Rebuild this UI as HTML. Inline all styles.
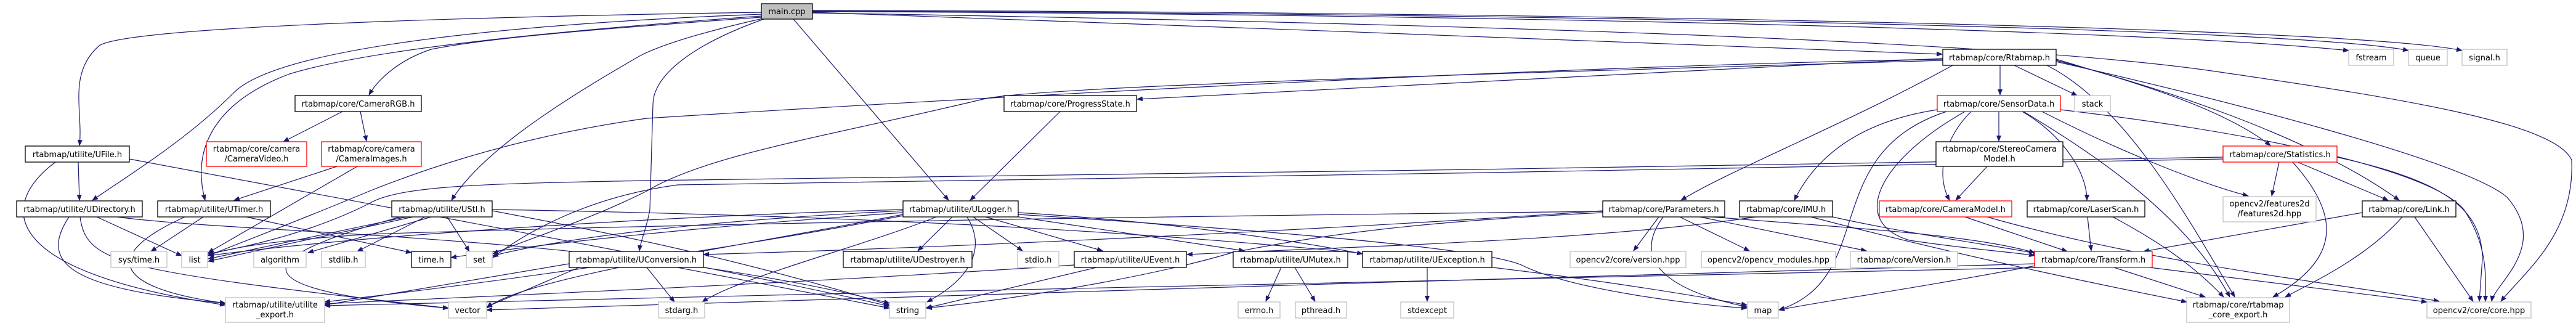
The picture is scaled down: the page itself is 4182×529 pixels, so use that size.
<!DOCTYPE html>
<html><head><meta charset="utf-8"><style>
html,body{margin:0;padding:0;background:#fff;}
svg{display:block;}
text{font-family:"DejaVu Sans","Liberation Sans",sans-serif;font-size:13px;fill:#000;}
.e{fill:none;stroke:#191970;stroke-width:1.2;marker-end:url(#a);}
.b{fill:#fff;stroke:#000;stroke-width:1.3;}
.g{fill:#fff;stroke:#bfbfbf;stroke-width:1.3;}
.r{fill:#fff;stroke:#ff0000;stroke-width:1.3;}
</style></head><body>
<svg width="4182" height="529" viewBox="0 0 4182 529" xmlns="http://www.w3.org/2000/svg">
<defs><marker id="a" markerWidth="10" markerHeight="8" refX="9" refY="4" orient="auto" markerUnits="userSpaceOnUse"><path d="M0,0 L10,4 L0,8 z" fill="#191970"/></marker></defs>
<g>
<!-- main edges -->
<path class="e" d="M1236,20 C900,25 200,40 160,75 C110,120 135,180 129,236"/>
<path class="e" d="M1236,23 C800,40 450,80 380,150 C300,230 200,290 150,325"/>
<path class="e" d="M1236,26 C900,50 600,80 470,120 C350,165 310,240 333,325"/>
<path class="e" d="M1236,28 C1000,45 800,60 700,80 C640,100 610,135 599,154"/>
<path class="e" d="M1238,30 C1150,50 1080,70 1040,90 C900,170 780,250 733,325"/>
<path class="e" d="M1240,31 C1130,70 1060,120 1060,170 L1055,340 C1050,370 1040,390 1038,407"/>
<path class="e" d="M1288,31 L1540,325"/>
<path class="e" d="M1319,20 C1800,40 2800,70 3153,88"/>
<path class="e" d="M1319,19 C2000,20 3400,40 3813,82"/>
<path class="e" d="M1319,18 C2200,20 3700,40 3910,82"/>
<path class="e" d="M1319,17 C2300,18 3800,40 3997,82"/>
<path class="e" d="M1319,21 C2500,40 3300,70 3611,118 C3900,160 4150,200 4175,260 C4180,380 4100,440 4060,489"/>
<!-- Rtabmap -->
<path class="e" d="M3154,95 C2600,120 2000,150 1846,161"/>
<path class="e" d="M3154,96 C2400,110 1400,170 1050,192 C850,220 700,270 600,310 C480,360 400,390 338,415"/>
<path class="e" d="M3154,98 C2400,120 1700,140 1600,160 C1350,220 1150,250 1050,310 C950,360 850,390 800,412"/>
<path class="e" d="M3170,106 C3000,200 2800,280 2729,325"/>
<path class="e" d="M3247,106 L3247,154"/>
<path class="e" d="M3270,106 L3372,155"/>
<path class="e" d="M3323,106 C3450,170 3550,350 3628,482"/>
<path class="e" d="M3338,96 C3450,130 3600,170 3686,236"/>
<path class="e" d="M3338,98 C3500,140 3750,220 3895,325"/>
<path class="e" d="M3338,100 C3600,160 4000,260 4070,320 C4140,400 4050,460 4045,489"/>
<!-- SensorData -->
<path class="e" d="M3245,181 L3245,229"/>
<path class="e" d="M3200,181 C3160,220 3140,280 3165,325"/>
<path class="e" d="M3145,178 C3000,200 2940,270 2913,325"/>
<path class="e" d="M3283,181 C3350,220 3388,280 3388,325"/>
<path class="e" d="M3285,181 C3400,250 3550,350 3620,482"/>
<path class="e" d="M3315,181 C3450,250 3580,300 3650,318"/>
<path class="e" d="M3345,178 C3700,220 3950,280 4000,340 C4040,400 4035,450 4035,489"/>
<path class="e" d="M3190,181 C3050,260 3000,360 3100,390 C3200,405 3280,410 3303,415"/>
<path class="e" d="M3160,181 C2950,250 3050,450 2888,503"/>
<!-- Statistics -->
<path class="e" d="M3609,255 C3000,270 1500,285 1050,293 C800,298 650,300 600,330 C500,380 400,400 338,412"/>
<path class="e" d="M3609,258 C3000,275 1600,290 1100,300 C950,320 850,380 800,418"/>
<path class="e" d="M3700,263 L3688,318"/>
<path class="e" d="M3722,263 C3800,350 3800,420 3690,482"/>
<path class="e" d="M3730,263 L3877,325"/>
<path class="e" d="M3794,255 C3950,290 4030,330 4030,420 L4025,489"/>
<!-- others core -->
<path class="e" d="M3226,270 L3175,325"/>
<path class="e" d="M3389,352 L3395,407"/>
<path class="e" d="M3430,352 C3520,400 3570,440 3610,482"/>
<path class="e" d="M3835,345 L3480,408"/>
<path class="e" d="M3900,352 C3840,420 3750,460 3710,482"/>
<path class="e" d="M3920,352 L4015,489"/>
<path class="e" d="M3190,352 L3356,408"/>
<path class="e" d="M3226,352 C3500,430 3800,460 3960,489"/>
<path class="e" d="M3432,434 L3580,482"/>
<path class="e" d="M3490,434 C3700,460 3850,480 3940,490"/>
<path class="e" d="M3303,428 C2500,450 1500,480 790,503"/>
<path class="e" d="M3320,434 C2800,450 1500,470 527,496"/>
<path class="e" d="M3310,430 C3100,470 2950,490 2888,503"/>
<!-- Parameters -->
<path class="e" d="M2693,352 L2652,407"/>
<path class="e" d="M2727,352 L2840,407"/>
<path class="e" d="M2760,352 L3030,407"/>
<path class="e" d="M2780,352 C3000,370 3200,380 3303,410"/>
<path class="e" d="M2602,342 C2200,370 1600,400 1142,413"/>
<path class="e" d="M2602,345 C2300,360 2150,380 2000,410 C1900,440 1700,480 1504,500"/>
<path class="e" d="M2602,343 C2000,350 1200,360 600,380 C450,390 380,400 338,414"/>
<path class="e" d="M2700,352 C2650,420 2700,470 2836,498"/>
<!-- IMU -->
<path class="e" d="M2975,352 C3100,380 3250,400 3310,412"/>
<path class="e" d="M2940,352 C3200,420 3450,470 3550,490"/>
<path class="e" d="M2850,352 C2600,390 2200,400 1927,413"/>
<!-- ULogger -->
<path class="e" d="M1546,352 L1490,407"/>
<path class="e" d="M1580,352 L1660,407"/>
<path class="e" d="M1600,352 L1790,407"/>
<path class="e" d="M1640,350 L2020,407"/>
<path class="e" d="M1653,345 C1900,360 2100,390 2212,412"/>
<path class="e" d="M1570,352 C1600,400 1580,450 1505,490"/>
<path class="e" d="M1520,352 C1400,400 1200,450 1140,490"/>
<path class="e" d="M1466,340 C1100,350 600,380 338,415"/>
<path class="e" d="M1466,342 C1100,360 900,390 800,415"/>
<path class="e" d="M1466,345 C1100,370 850,400 732,418"/>
<path class="e" d="M1466,348 C1200,400 850,450 790,500"/>
<path class="e" d="M1466,350 C1100,420 700,470 527,490"/>
<path class="e" d="M1653,348 C2000,370 2400,400 2470,430 C2550,470 2750,495 2836,500"/>
<!-- UConversion etc -->
<path class="e" d="M1050,434 L1095,490"/>
<path class="e" d="M1100,434 L1444,500"/>
<path class="e" d="M940,434 L790,498"/>
<path class="e" d="M924,428 L527,495"/>
<path class="e" d="M1780,434 L1503,500"/>
<path class="e" d="M1744,430 C1300,460 800,480 527,493"/>
<path class="e" d="M2080,434 L2055,489"/>
<path class="e" d="M2102,434 L2135,489"/>
<path class="e" d="M2317,434 L2317,489"/>
<!-- UStl -->
<path class="e" d="M660,352 L338,420"/>
<path class="e" d="M670,352 L338,424"/>
<path class="e" d="M700,352 L500,410"/>
<path class="e" d="M690,352 L580,408"/>
<path class="e" d="M726,352 L762,408"/>
<path class="e" d="M650,352 C400,420 380,470 728,500"/>
<path class="e" d="M799,342 C1000,380 1200,420 1444,495"/>
<path class="e" d="M799,340 C1400,350 2200,380 2836,495"/>
<!-- UFile / UDirectory / UTimer -->
<path class="e" d="M127,263 L129,325"/>
<path class="e" d="M90,263 C0,330 -10,440 366,495"/>
<path class="e" d="M210,258 C700,350 1200,440 1444,497"/>
<path class="e" d="M157,352 L295,415"/>
<path class="e" d="M112,352 C60,430 120,470 366,492"/>
<path class="e" d="M130,352 C140,430 200,440 728,500"/>
<path class="e" d="M190,352 C400,380 1000,380 1444,492"/>
<path class="e" d="M330,352 L245,408"/>
<path class="e" d="M400,352 L668,410"/>
<path class="e" d="M300,352 C150,420 200,470 366,492"/>
<path class="e" d="M547,270 L380,325"/>
<path class="e" d="M580,270 L338,410"/>
<path class="e" d="M556,181 L460,230"/>
<path class="e" d="M585,181 L595,229"/>
<path class="e" d="M1721,181 L1575,325"/>
</g>
<g>
<rect x="1236" y="6" width="83" height="25" fill="#bfbfbf" stroke="#000" stroke-width="1.3"/><text x="1277.5" y="23" text-anchor="middle">main.cpp</text>
<rect class="b" x="41" y="237" width="169" height="26"/><text x="125.5" y="255" text-anchor="middle">rtabmap/utilite/UFile.h</text>
<rect class="b" x="27" y="326" width="204" height="26"/><text x="129" y="344" text-anchor="middle">rtabmap/utilite/UDirectory.h</text>
<rect class="b" x="256" y="326" width="183" height="26"/><text x="347.5" y="344" text-anchor="middle">rtabmap/utilite/UTimer.h</text>
<rect class="b" x="479" y="155" width="205" height="26"/><text x="581.5" y="173" text-anchor="middle">rtabmap/core/CameraRGB.h</text>
<rect class="r" x="335" y="230" width="163" height="40"/><text x="416.5" y="246" text-anchor="middle">rtabmap/core/camera</text><text x="416.5" y="262" text-anchor="middle">/CameraVideo.h</text>
<rect class="r" x="522" y="230" width="162" height="40"/><text x="603" y="246" text-anchor="middle">rtabmap/core/camera</text><text x="603" y="262" text-anchor="middle">/CameraImages.h</text>
<rect class="b" x="636" y="326" width="163" height="26"/><text x="717.5" y="344" text-anchor="middle">rtabmap/utilite/UStl.h</text>
<rect class="g" x="180" y="408" width="91" height="26"/><text x="225.5" y="426" text-anchor="middle">sys/time.h</text>
<rect class="g" x="295" y="408" width="42" height="26"/><text x="316" y="426" text-anchor="middle">list</text>
<rect class="g" x="412" y="408" width="85" height="26"/><text x="454.5" y="426" text-anchor="middle">algorithm</text>
<rect class="g" x="522" y="408" width="71" height="26"/><text x="557.5" y="426" text-anchor="middle">stdlib.h</text>
<rect class="b" x="668" y="408" width="64" height="26"/><text x="700" y="426" text-anchor="middle">time.h</text>
<rect class="g" x="757" y="408" width="42" height="26"/><text x="778" y="426" text-anchor="middle">set</text>
<rect class="b" x="924" y="408" width="218" height="26"/><text x="1033" y="426" text-anchor="middle">rtabmap/utilite/UConversion.h</text>
<rect class="g" x="366" y="483" width="161" height="40"/><text x="446.5" y="499" text-anchor="middle">rtabmap/utilite/utilite</text><text x="446.5" y="515" text-anchor="middle">_export.h</text>
<rect class="g" x="728" y="490" width="62" height="26"/><text x="759" y="508" text-anchor="middle">vector</text>
<rect class="g" x="1069" y="490" width="75" height="26"/><text x="1106.5" y="508" text-anchor="middle">stdarg.h</text>
<rect class="g" x="1444" y="490" width="59" height="26"/><text x="1473.5" y="508" text-anchor="middle">string</text>
<rect class="b" x="1630" y="155" width="215" height="26"/><text x="1737.5" y="173" text-anchor="middle">rtabmap/core/ProgressState.h</text>
<rect class="b" x="1466" y="326" width="187" height="26"/><text x="1559.5" y="344" text-anchor="middle">rtabmap/utilite/ULogger.h</text>
<rect class="b" x="1369" y="408" width="209" height="26"/><text x="1473.5" y="426" text-anchor="middle">rtabmap/utilite/UDestroyer.h</text>
<rect class="g" x="1652" y="408" width="67" height="26"/><text x="1685.5" y="426" text-anchor="middle">stdio.h</text>
<rect class="b" x="1744" y="408" width="182" height="26"/><text x="1835" y="426" text-anchor="middle">rtabmap/utilite/UEvent.h</text>
<rect class="b" x="2002" y="408" width="186" height="26"/><text x="2095" y="426" text-anchor="middle">rtabmap/utilite/UMutex.h</text>
<rect class="g" x="2010" y="490" width="68" height="26"/><text x="2044" y="508" text-anchor="middle">errno.h</text>
<rect class="b" x="2212" y="408" width="210" height="26"/><text x="2317" y="426" text-anchor="middle">rtabmap/utilite/UException.h</text>
<rect class="g" x="2103" y="490" width="83" height="26"/><text x="2144.5" y="508" text-anchor="middle">pthread.h</text>
<rect class="g" x="2274" y="490" width="86" height="26"/><text x="2317" y="508" text-anchor="middle">stdexcept</text>
<rect class="g" x="2837" y="490" width="50" height="26"/><text x="2862" y="508" text-anchor="middle">map</text>
<rect class="b" x="2602" y="326" width="198" height="26"/><text x="2701" y="344" text-anchor="middle">rtabmap/core/Parameters.h</text>
<rect class="b" x="2824" y="326" width="151" height="26"/><text x="2899.5" y="344" text-anchor="middle">rtabmap/core/IMU.h</text>
<rect class="r" x="3051" y="326" width="215" height="26"/><text x="3158.5" y="344" text-anchor="middle">rtabmap/core/CameraModel.h</text>
<rect class="g" x="2549" y="408" width="188" height="26"/><text x="2643" y="426" text-anchor="middle">opencv2/core/version.hpp</text>
<rect class="g" x="2762" y="408" width="218" height="26"/><text x="2871" y="426" text-anchor="middle">opencv2/opencv_modules.hpp</text>
<rect class="g" x="3004" y="408" width="174" height="26"/><text x="3091" y="426" text-anchor="middle">rtabmap/core/Version.h</text>
<rect class="r" x="3145" y="155" width="200" height="26"/><text x="3245" y="173" text-anchor="middle">rtabmap/core/SensorData.h</text>
<rect class="b" x="3143" y="230" width="206" height="40"/><text x="3246" y="246" text-anchor="middle">rtabmap/core/StereoCamera</text><text x="3246" y="262" text-anchor="middle">Model.h</text>
<rect class="b" x="3154" y="80" width="184" height="26"/><text x="3246" y="98" text-anchor="middle">rtabmap/core/Rtabmap.h</text>
<rect class="g" x="3813" y="80" width="73" height="26"/><text x="3849.5" y="98" text-anchor="middle">fstream</text>
<rect class="g" x="3910" y="80" width="63" height="26"/><text x="3941.5" y="98" text-anchor="middle">queue</text>
<rect class="g" x="3997" y="80" width="73" height="26"/><text x="4033.5" y="98" text-anchor="middle">signal.h</text>
<rect class="g" x="3368" y="155" width="58" height="26"/><text x="3397" y="173" text-anchor="middle">stack</text>
<rect class="r" x="3609" y="237" width="185" height="26"/><text x="3701.5" y="255" text-anchor="middle">rtabmap/core/Statistics.h</text>
<rect class="g" x="3609" y="319" width="151" height="41"/><text x="3684.5" y="335" text-anchor="middle">opencv2/features2d</text><text x="3684.5" y="351" text-anchor="middle">/features2d.hpp</text>
<rect class="b" x="3291" y="326" width="191" height="26"/><text x="3386.5" y="344" text-anchor="middle">rtabmap/core/LaserScan.h</text>
<rect class="b" x="3835" y="326" width="152" height="26"/><text x="3911" y="344" text-anchor="middle">rtabmap/core/Link.h</text>
<rect class="r" x="3303" y="408" width="191" height="26"/><text x="3398.5" y="426" text-anchor="middle">rtabmap/core/Transform.h</text>
<rect class="g" x="3550" y="483" width="167" height="40"/><text x="3633.5" y="499" text-anchor="middle">rtabmap/core/rtabmap</text><text x="3633.5" y="515" text-anchor="middle">_core_export.h</text>
<rect class="g" x="3940" y="490" width="169" height="26"/><text x="4024.5" y="508" text-anchor="middle">opencv2/core/core.hpp</text>
</g>
</svg>
</body></html>
